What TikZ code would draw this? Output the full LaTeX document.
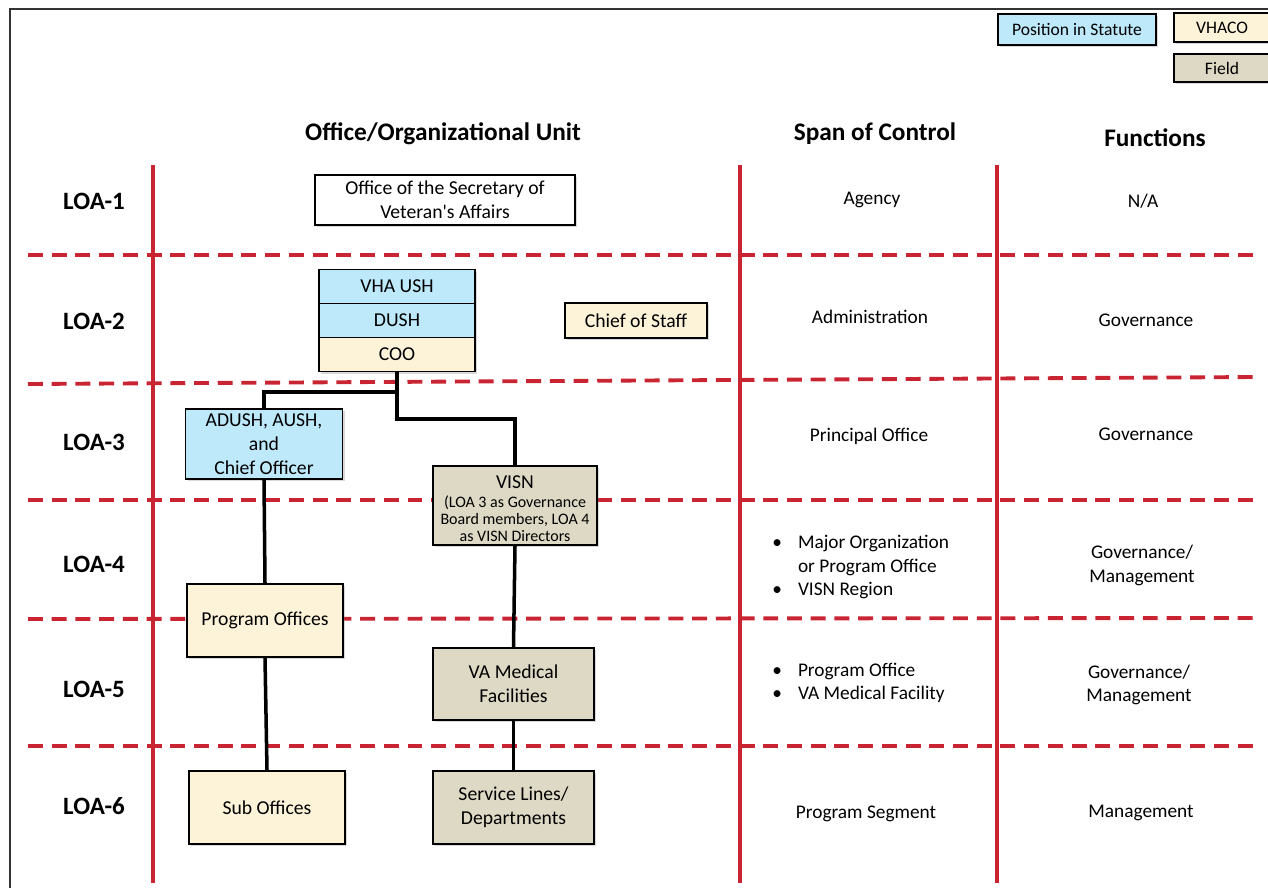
\documentclass[tikz,border=0pt]{standalone}
\usepackage{fontspec}
\setmainfont{Carlito}
\usetikzlibrary{shadows}
\definecolor{statuteblue}{RGB}{189,233,251}
\definecolor{vhacocream}{RGB}{252,243,217}
\definecolor{fieldtan}{RGB}{221,217,196}
\definecolor{rulered}{RGB}{201,36,50}
\begin{document}
\begin{tikzpicture}[x=0.02cm, y=-0.02cm,
  box/.style={draw=black, line width=1pt, align=center, inner sep=2pt,
    font=\fontsize{11.2}{13.5}\selectfont,
    drop shadow={shadow xshift=1.3pt, shadow yshift=-1.3pt, opacity=.3}},
  statute/.style={box, fill=statuteblue},
  vhaco/.style={box, fill=vhacocream},
  field/.style={box, fill=fieldtan},
  keybox/.style={font=\fontsize{10}{12}\selectfont},
  loa/.style={font=\fontsize{14.2}{16}\selectfont\bfseries},
  colhead/.style={font=\fontsize{14.4}{16}\selectfont\bfseries},
  cell/.style={align=center, font=\fontsize{11}{13.5}\selectfont},
  levelrule/.style={draw=rulered, line width=2.2pt, dash pattern=on 8.5pt off 5pt},
  colrule/.style={draw=rulered, line width=1.9pt},
  link/.style={draw=black, line width=2pt}]

\useasboundingbox (0,0) rectangle (1268,888);
\draw[draw=black!80, line width=0.7pt] (10,888) -- (10,9) -- (1268,9);

% Legende
\node[statute, keybox, minimum width=3.16cm, minimum height=0.62cm] (keystatute) at (1077,29.5) {Position in Statute};
\node[vhaco, keybox, minimum width=1.92cm, minimum height=0.58cm] (keyvhaco) at (1222,27.5) {VHACO};
\node[field, keybox, minimum width=1.92cm, minimum height=0.56cm] (keyfield) at (1222,68) {Field};

% Titres des colonnes
\node[colhead] (headunit) at (443,134) {Office/Organizational Unit};
\node[colhead] (headspan) at (875,134) {Span of Control};
\node[colhead] (headfunc) at (1155,138) {Functions};

% Separations des niveaux
\draw[levelrule] (28,255) -- (1258,255);
\draw[levelrule] (28,384) -- (1258,377);
\draw[levelrule] (28,500) -- (1258,500);
\draw[levelrule] (28,619) -- (1258,618);
\draw[levelrule] (28,746) -- (1258,746);

% Colonnes
\draw[colrule] (153,165) -- (153,883);
\draw[colrule] (740,165) -- (740,883);
\draw[colrule] (997,165) -- (997,883);

% Niveaux LOA
\node[loa] (loa1) at (94,201) {LOA-1};
\node[loa] (loa2) at (94,321) {LOA-2};
\node[loa] (loa3) at (94,442) {LOA-3};
\node[loa] (loa4) at (94,564) {LOA-4};
\node[loa] (loa5) at (94,689) {LOA-5};
\node[loa] (loa6) at (94,806) {LOA-6};

% Unites
\node[box, fill=white, minimum width=5.2cm, minimum height=1cm] (secva) at (445,200) {Office of the Secretary of\\Veteran\textquotesingle s Affairs};

\node[statute, minimum width=3.12cm, minimum height=0.68cm] (ush) at (397,286.5) {VHA USH};
\node[statute, minimum width=3.12cm, minimum height=0.68cm] (dush) at (397,320.5) {DUSH};
\node[vhaco, minimum width=3.12cm, minimum height=0.68cm] (coo) at (397,354.5) {COO};
\node[vhaco, minimum width=2.84cm, minimum height=0.7cm] (chief) at (636,320.5) {Chief of Staff};

\node[statute, minimum width=3.14cm, minimum height=1.4cm] (adush) at (264,444) {ADUSH, AUSH,\\and\\Chief Officer};
\node[field, font=\fontsize{9.1}{9.6}\selectfont, inner ysep=0pt, minimum width=3.28cm, minimum height=1.58cm] (visn) at (515,505.5)
  {{\fontsize{11.2}{13.5}\selectfont\rule{0pt}{11pt}VISN}\\[1.2pt](LOA 3 as Governance\\Board members, LOA 4\\as VISN Directors};

\node[vhaco, minimum width=3.12cm, minimum height=1.46cm] (progoff) at (265,620.5) {Program Offices};
\node[field, minimum width=3.22cm, minimum height=1.44cm] (vamed) at (513.5,684) {VA Medical\\Facilities};

\node[vhaco, minimum width=3.12cm, minimum height=1.46cm] (suboff) at (267,807.5) {Sub Offices};
\node[field, minimum width=3.22cm, minimum height=1.46cm] (svclines) at (513.5,807.5) {Service Lines/\\Departments};

% Liens
\coordinate (split) at (397,392);
\draw[link] (coo.south) -- (split) -| (adush.north);
\draw[link] (split) -- ++(0,27) -| (visn.north);
\draw[link] (adush.south) -- (progoff.north);
\draw[link] (progoff.south) -- (suboff.north);
\draw[link] (visn.south) -- (vamed.north);
\draw[link] (vamed.south) -- (svclines.north);

% Span of Control
\node[cell] (span1) at (872,200) {Agency};
\node[cell] (span2) at (870,317) {Administration};
\node[cell] (span3) at (869,436) {Principal Office};
\node[cell, align=left, anchor=west, inner sep=0pt] (span4) at (772,567)
  {\makebox[14.6pt][l]{\textbullet}Major Organization\\\hspace*{14.6pt}or Program Office\\\makebox[14.6pt][l]{\textbullet}VISN Region};
\node[cell, align=left, anchor=west, inner sep=0pt] (span5) at (772,683)
  {\makebox[14.6pt][l]{\textbullet}Program Office\\\makebox[14.6pt][l]{\textbullet}VA Medical Facility};
\node[cell] (span6) at (866,814) {Program Segment};

% Functions
\node[cell] (func1) at (1143,201) {N/A};
\node[cell] (func2) at (1146,320) {Governance};
\node[cell] (func3) at (1146,434) {Governance};
\node[cell] (func4) at (1142,565.5) {Governance/\\Management};
\node[cell] (func5) at (1139,685) {Governance/\\Management};
\node[cell] (func6) at (1141,813) {Management};

\end{tikzpicture}
\end{document}
